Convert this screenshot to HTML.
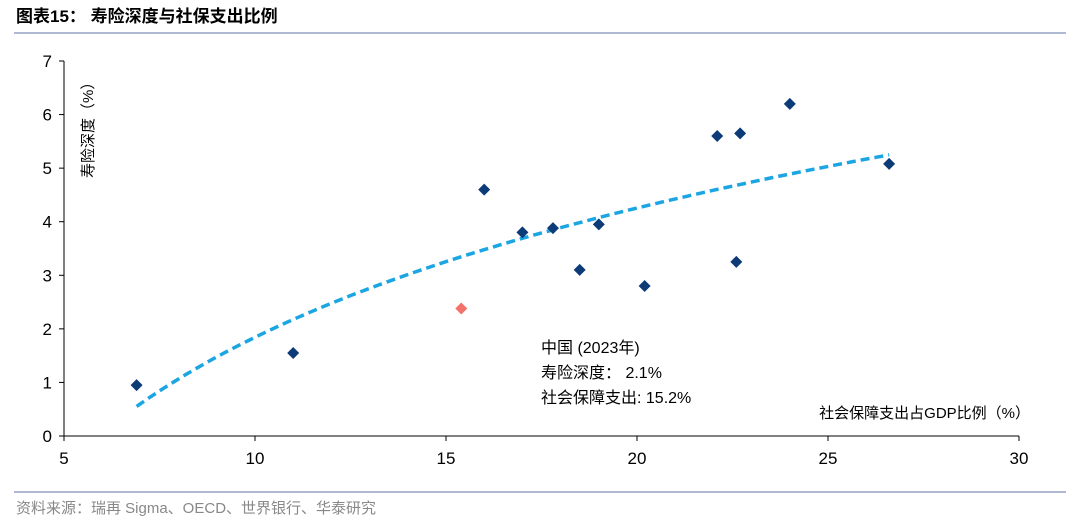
<!DOCTYPE html>
<html><head><meta charset="utf-8"><style>
body{margin:0;background:#fff;width:1080px;height:527px;overflow:hidden;font-family:"Liberation Sans","Noto Sans CJK SC",sans-serif}
</style></head><body>
<svg id="chart" width="1080" height="527" xmlns="http://www.w3.org/2000/svg">
<text x="16" y="22" font-size="17" font-weight="bold" fill="#000" font-family="Liberation Sans,Noto Sans CJK SC,sans-serif">图表15：  寿险深度与社保支出比例</text>
<line x1="14" y1="33" x2="1066" y2="33" stroke="#7f8fb8" stroke-width="1.2"/>
<line x1="14" y1="492" x2="1066" y2="492" stroke="#7f8fb8" stroke-width="1.2"/>
<text x="16" y="513" font-size="15" fill="#888" font-family="Liberation Sans,Noto Sans CJK SC,sans-serif">资料来源：瑞再 Sigma、OECD、世界银行、华泰研究</text>
<g id="plot"></g>
</svg>
<script>
const xTicks=[5,10,15,20,25,30];
const yTicks=[0,1,2,3,4,5,6,7];
const xs=[6.9,11.0,16.0,17.0,17.8,18.5,19.0,20.2,22.1,22.6,22.7,24.0,26.6];
const ys=[0.95,1.55,4.6,3.8,3.88,3.1,3.95,2.8,5.6,3.25,5.65,6.2,5.08];
const chinaX=[15.4];
const chinaY=[2.38];
const trendA=3.48, trendB=-6.17;
const ns="http://www.w3.org/2000/svg";
const g=document.getElementById('plot');
const X=v=>64+(v-5)*(1019-64)/25;
const Y=v=>436-v*(436-61)/7;
function mk(t,a){const e=document.createElementNS(ns,t);for(const k in a)e.setAttribute(k,a[k]);g.appendChild(e);return e;}
const F="Liberation Sans,Noto Sans CJK SC,sans-serif";
let e=mk('line',{x1:64,y1:61,x2:64,y2:436,stroke:'#000','stroke-width':1});


e=mk('line',{x1:64,y1:436,x2:1019,y2:436,stroke:'#000','stroke-width':1});


xTicks.forEach(v=>{
 let t=mk('line',{x1:X(v),y1:436,x2:X(v),y2:441,stroke:'#000'});
 
 
 let l=mk('text',{x:X(v),y:464,'font-size':17,'text-anchor':'middle','font-family':F});
 l.textContent=v;
 
 
});
yTicks.forEach(v=>{
 let t=mk('line',{x1:59,y1:Y(v),x2:64,y2:Y(v),stroke:'#000'});
 
 
 let l=mk('text',{x:52,y:Y(v)+6,'font-size':17,'text-anchor':'end','font-family':F});
 l.textContent=v;
 
 
});
let yt=mk('text',{x:0,y:0,'font-size':15,'font-family':F,transform:'translate(93,178) rotate(-90)'});
yt.textContent='寿险深度（%）';


let xt=mk('text',{x:1030,y:418,'font-size':15,'text-anchor':'end','font-family':F});
xt.textContent='社会保障支出占GDP比例（%）';


const x0=Math.min(...xs),x1=Math.max(...xs);let d='';
for(let i=0;i<=60;i++){const v=x0+(x1-x0)*i/60;d+=(i?'L':'M')+X(v).toFixed(1)+','+Y(trendA*Math.log(v)+trendB).toFixed(1);}
let tr=mk('path',{d:d,fill:'none',stroke:'#1ba6e3','stroke-width':3.5,'stroke-dasharray':'9,5'});


function dia(x,y,c,n){const p=mk('path',{d:`M${x},${y-6}L${x+6},${y}L${x},${y+6}L${x-6},${y}Z`,fill:c});
 
 }
xs.forEach((v,i)=>dia(X(v),Y(ys[i]),'#0d3b78','country-point'));
chinaX.forEach((v,i)=>dia(X(v),Y(chinaY[i]),'#f4726c','china-point'));
['中国 (2023年)','寿险深度：  2.1%','社会保障支出: 15.2%'].forEach((s,i)=>{
 let t=mk('text',{x:541,y:353+i*25,'font-size':16,'font-family':F});
 t.textContent=s;
 
 
});
</script>
</body></html>
